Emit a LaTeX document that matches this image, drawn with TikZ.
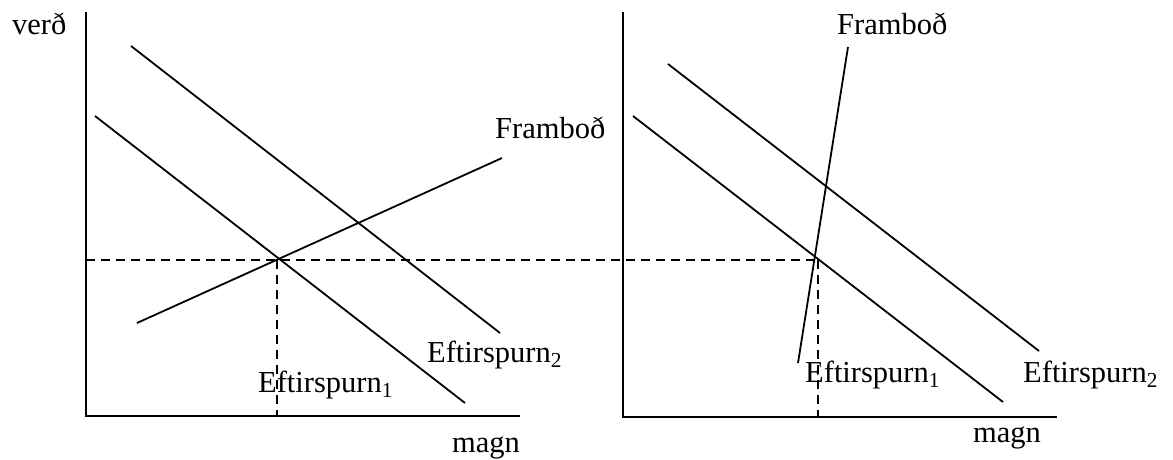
\documentclass[tikz,border=0pt]{standalone}
\usepackage{fontspec}
\setmainfont{Liberation Serif}
\begin{document}
\begin{tikzpicture}[x=1pt,y=-1pt,
  axis/.style={line width=2.2pt},
  curve/.style={line width=1.8pt},
  guide/.style={line width=1.7pt, dash pattern=on 9pt off 6pt},
  lbl/.style={anchor=base west, inner sep=0pt, font=\fontsize{30.5}{36}\selectfont}]
\useasboundingbox (0,0) rectangle (1173,460);

% left panel: axes
\coordinate (LO) at (86,416);
\coordinate (LT) at (86,12);
\coordinate (LR) at (520,416);
\draw[axis] (LT) -- (LO) -- (LR);

% right panel: axes
\coordinate (RO) at (623,417);
\coordinate (RT) at (623,12);
\coordinate (RR) at (1057,417);
\draw[axis] (RT) -- (RO) -- (RR);

% left panel: demand and supply curves
\coordinate (LD1a) at (95,116);  \coordinate (LD1b) at (465,403);
\coordinate (LD2a) at (131,46);  \coordinate (LD2b) at (500,333);
\coordinate (LSa)  at (137,323); \coordinate (LSb)  at (502,158);
\draw[curve] (LD1a) -- (LD1b);
\draw[curve] (LD2a) -- (LD2b);
\draw[curve] (LSa) -- (LSb);

% right panel: demand and supply curves
\coordinate (RD1a) at (633,116); \coordinate (RD1b) at (1003,402);
\coordinate (RD2a) at (668,64);  \coordinate (RD2b) at (1039,351);
\coordinate (RSa)  at (848,47);  \coordinate (RSb)  at (798,363);
\draw[curve] (RD1a) -- (RD1b);
\draw[curve] (RD2a) -- (RD2b);
\draw[curve] (RSa) -- (RSb);

% equilibrium guides
\coordinate (LE) at (277,260);
\coordinate (RE) at (818,260);
\coordinate (LP) at (86,260);
\coordinate (LQ) at (277,416);
\coordinate (RQ) at (818,417);
\draw[guide] (LP) -- (RE);
\draw[guide] (LE) -- (LQ);
\draw[guide] (RE) -- (RQ);

% labels
\node[lbl] (verd) at (12,35) {verð};
\node[lbl] (LSlab) at (495,138) {Framboð};
\node[lbl] (LD2lab) at (427,362) {Eftirspurn\textsubscript{2}};
\node[lbl] (LD1lab) at (258,392) {Eftirspurn\textsubscript{1}};
\node[lbl] (Lmagn) at (452,452) {magn};
\node[lbl] (RSlab) at (837,35) {Framboð};
\node[lbl] (RD1lab) at (805,382) {Eftirspurn\textsubscript{1}};
\node[lbl] (RD2lab) at (1023,382) {Eftirspurn\textsubscript{2}};
\node[lbl] (Rmagn) at (973,442) {magn};
\end{tikzpicture}
\end{document}
